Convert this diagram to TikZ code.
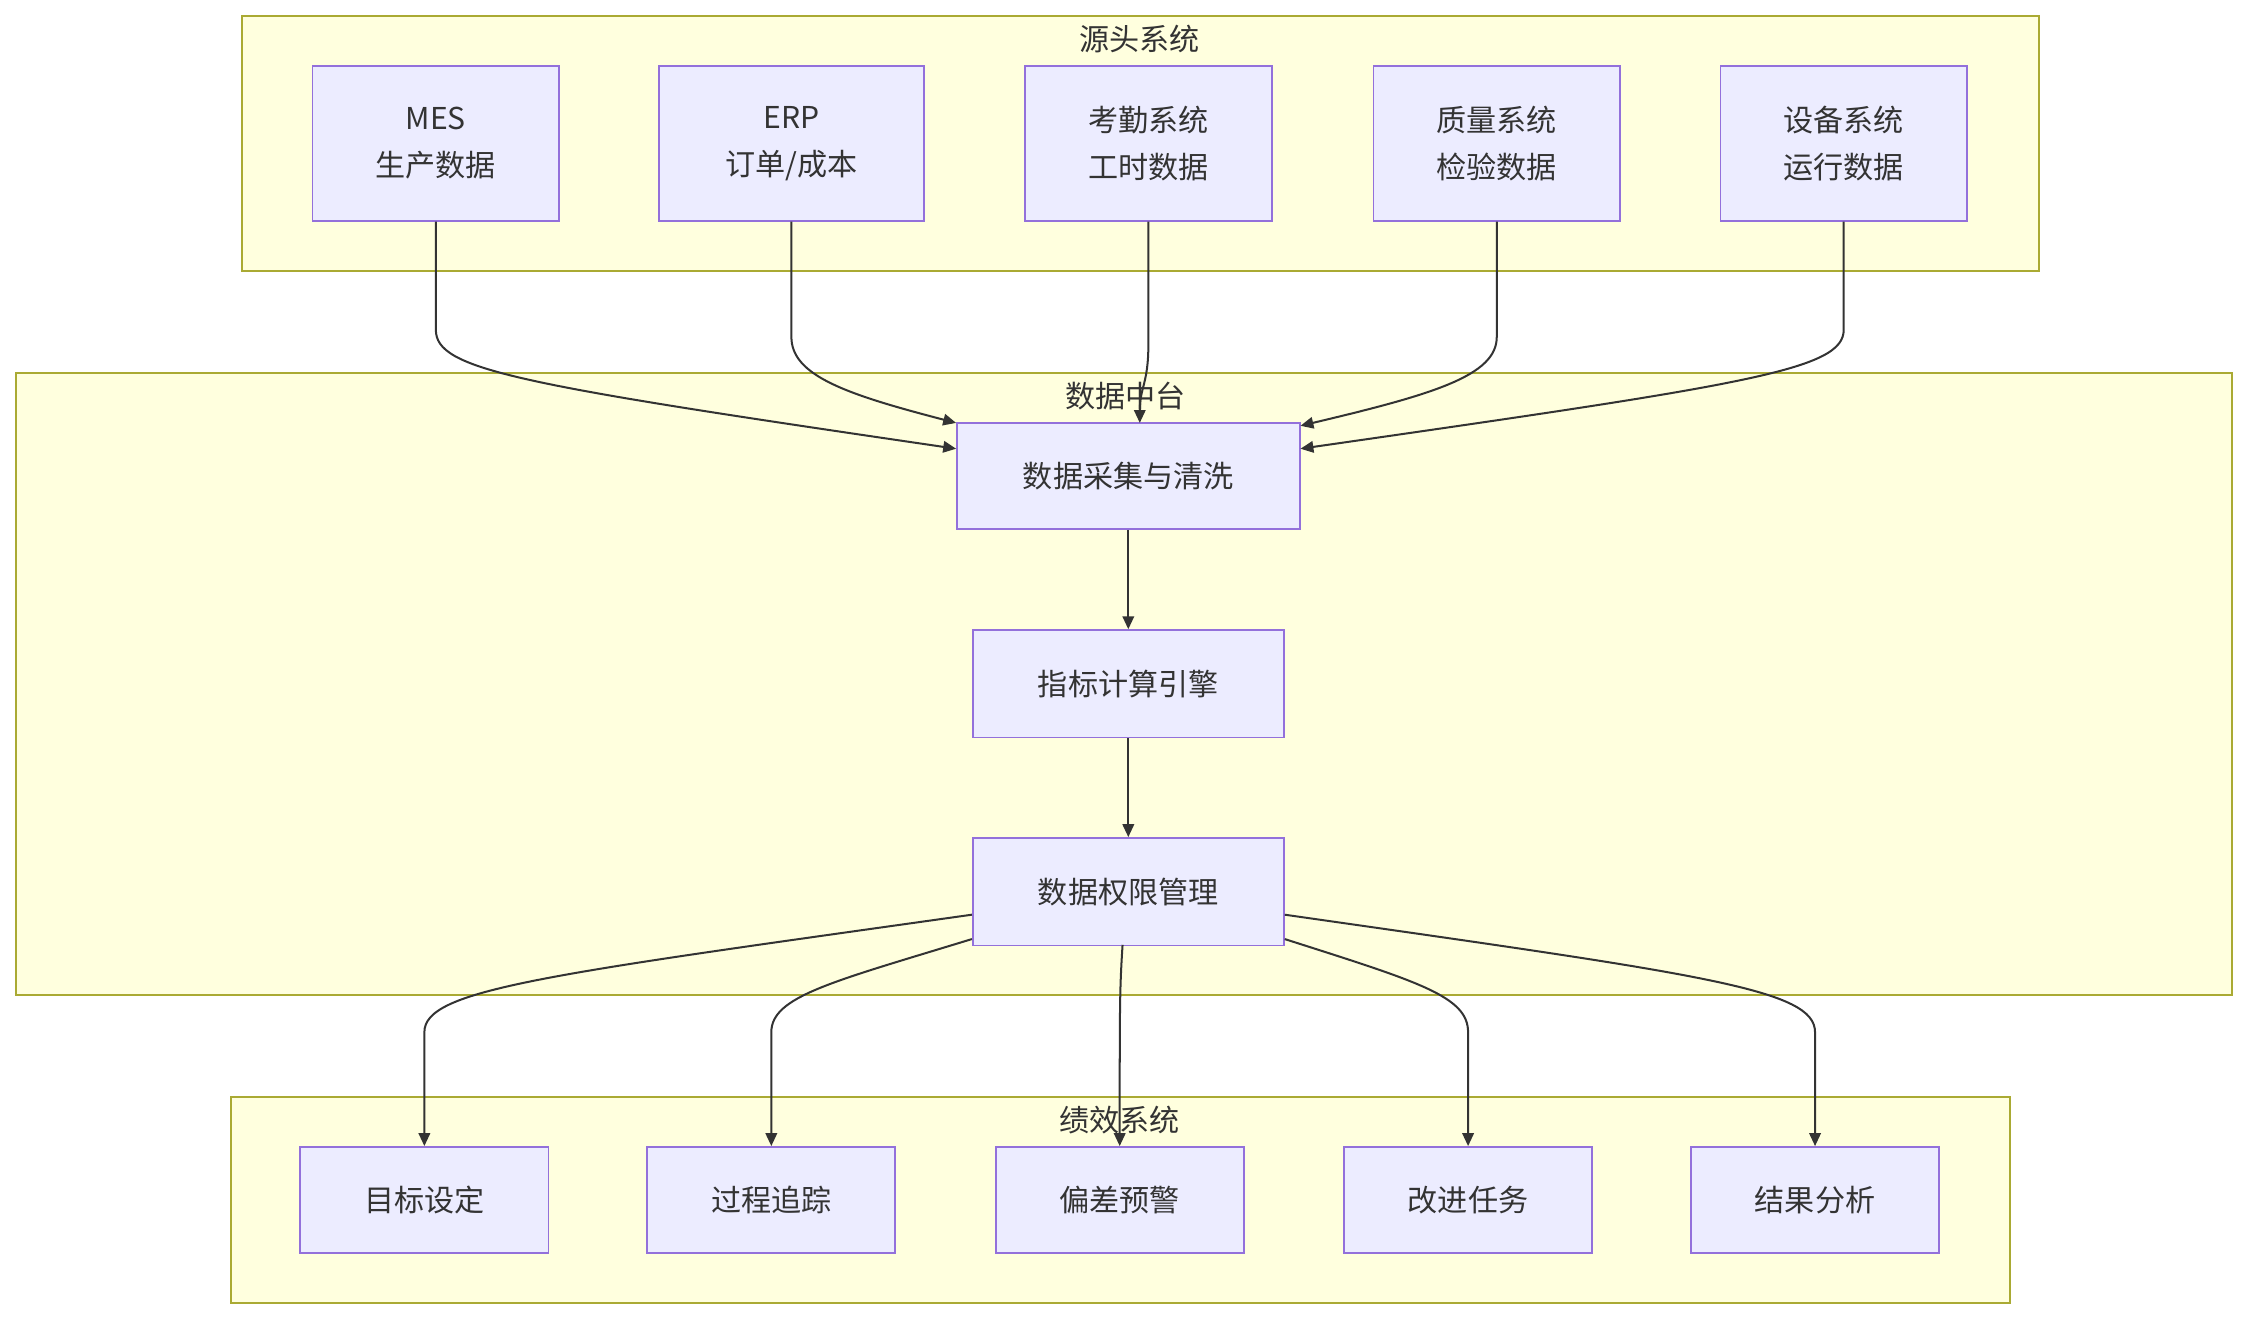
\documentclass[tikz,border=0pt]{standalone}
\usepackage{fontspec}
\setmainfont{Noto Sans CJK SC}
\usetikzlibrary{arrows.meta}
\definecolor{cf}{HTML}{FFFFDE}\definecolor{cs}{HTML}{AAAA33}
\definecolor{nf}{HTML}{ECECFF}\definecolor{ns}{HTML}{9370DB}
\definecolor{tx}{HTML}{333333}
\begin{document}
\begin{tikzpicture}[x=1pt,y=-1pt,
 cl/.style={fill=cf,draw=cs,line width=1.2pt},
 ct/.style={text=tx,font=\fontsize{21}{24}\selectfont},
 nd/.style={fill=nf,draw=ns,line width=1.2pt,text=tx,font=\fontsize{21}{33}\selectfont,align=center,inner sep=0pt},
 ar/.style={draw=tx,line width=1.4pt,-{Triangle[length=9pt,width=8pt]}}]
\useasboundingbox (0,0) rectangle (1568,920);
\draw[cl] (169,11) rectangle (1422,189);
\draw[cl] (11,260) rectangle (1557,694);
\draw[cl] (161,765) rectangle (1402,909);
\node[ct] (t1) at (795,27) {源头系统};
\node[ct] (t2) at (785,276) {数据中台};
\node[ct] (t3) at (781,781) {绩效系统};
\node[nd,minimum width=172pt,minimum height=108pt] (mes) at (304,100) {MES\\生产数据};
\node[nd,minimum width=185pt,minimum height=108pt] (erp) at (552,100) {ERP\\订单/成本};
\node[nd,minimum width=172pt,minimum height=108pt] (kq) at (801,100) {考勤系统\\工时数据};
\node[nd,minimum width=172pt,minimum height=108pt] (zl) at (1044,100) {质量系统\\检验数据};
\node[nd,minimum width=172pt,minimum height=108pt] (sb) at (1286,100) {设备系统\\运行数据};
\node[nd,minimum width=239pt,minimum height=74pt] (cj) at (787,332) {数据采集与清洗};
\node[nd,minimum width=217pt,minimum height=75pt] (zb) at (787,477) {指标计算引擎};
\node[nd,minimum width=217pt,minimum height=75pt] (qx) at (787,622) {数据权限管理};
\node[nd,minimum width=173pt,minimum height=74pt] (b1) at (296,837) {目标设定};
\node[nd,minimum width=173pt,minimum height=74pt] (b2) at (538,837) {过程追踪};
\node[nd,minimum width=173pt,minimum height=74pt] (b3) at (781,837) {偏差预警};
\node[nd,minimum width=173pt,minimum height=74pt] (b4) at (1024,837) {改进任务};
\node[nd,minimum width=173pt,minimum height=74pt] (b5) at (1266,837) {结果分析};
\draw[ar] (mes.south) -- (304,230) .. controls (304,258) and (360,268) .. ([yshift=19pt]cj.west);
\draw[ar] (erp.south) -- (552,235) .. controls (552,262) and (590,275) .. ([yshift=37pt]cj.west);
\draw[ar] (kq.south) -- (801,240) .. controls (801,268) and (795,270) .. (795,295);
\draw[ar] (zl.south) -- (1044,235) .. controls (1044,262) and (1000,275) .. ([yshift=35pt]cj.east);
\draw[ar] (sb.south) -- (1286,230) .. controls (1286,258) and (1220,268) .. ([yshift=19pt]cj.east);
\draw[ar] (cj) -- (zb);
\draw[ar] (zb) -- (qx);
\draw[ar] ([yshift=-16pt]qx.west) .. controls (380,680) and (296,690) .. (296,720) -- (b1.north);
\draw[ar] ([yshift=-33pt]qx.west) .. controls (580,685) and (538,695) .. (538,720) -- (b2.north);
\draw[ar] (783,659) .. controls (781,690) and (781,700) .. (b3.north);
\draw[ar] ([yshift=-33pt]qx.east) .. controls (990,685) and (1024,695) .. (1024,720) -- (b4.north);
\draw[ar] ([yshift=-16pt]qx.east) .. controls (1190,680) and (1266,690) .. (1266,720) -- (b5.north);
\end{tikzpicture}
\end{document}
